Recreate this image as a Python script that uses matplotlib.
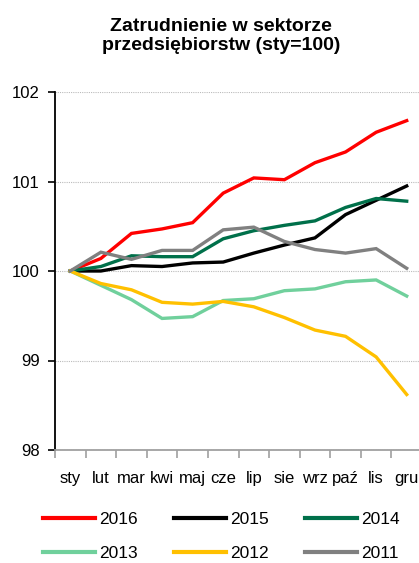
import matplotlib
matplotlib.use("Agg")
import matplotlib.pyplot as plt
from matplotlib.ticker import FixedLocator

plt.rcParams['font.family'] = ['Liberation Sans', 'DejaVu Sans']

months = ["sty", "lut", "mar", "kwi", "maj", "cze", "lip", "sie", "wrz", "paź", "lis", "gru"]
years = ["2016", "2015", "2014", "2013", "2012", "2011"]
colors = ["#FF0000", "#000000", "#00704A", "#70D09C", "#FFC000", "#808080"]

s2016 = [100, 100.14, 100.42, 100.47, 100.54, 100.87, 101.04, 101.02, 101.21, 101.33, 101.55, 101.68]
s2015 = [100, 100.00, 100.06, 100.05, 100.09, 100.10, 100.20, 100.29, 100.37, 100.63, 100.79, 100.95]
s2014 = [100, 100.05, 100.17, 100.16, 100.16, 100.36, 100.45, 100.51, 100.56, 100.71, 100.81, 100.78]
s2013 = [100, 99.84, 99.68, 99.47, 99.49, 99.67, 99.69, 99.78, 99.80, 99.88, 99.90, 99.72]
s2012 = [100, 99.86, 99.79, 99.65, 99.63, 99.66, 99.60, 99.48, 99.34, 99.27, 99.04, 98.62]
s2011 = [100, 100.21, 100.13, 100.23, 100.23, 100.46, 100.49, 100.33, 100.24, 100.20, 100.25, 100.03]
series = [s2016, s2015, s2014, s2013, s2012, s2011]

W, H = 419, 563
fig = plt.figure(figsize=(W / 100, H / 100), dpi=100)
ax = fig.add_axes([55 / W, 1 - 450 / H, 367 / W, (450 - 92) / H])

x = list(range(len(months)))
handles = []
for yr, c, s in zip(years, colors, series):
    h, = ax.plot(x, s, color=c, lw=2.4, solid_joinstyle='miter', label=yr, zorder=3)
    handles.append(h)

ax.set_xlim(-0.5, len(months) - 0.5)
ax.set_ylim(98, 102)
ax.set_yticks([98, 99, 100, 101, 102])
ax.yaxis.grid(True, linestyle=(0, (1, 1)), color='#BBBBBB', lw=0.8)
ax.set_axisbelow(True)

ax.xaxis.set_major_locator(FixedLocator([i - 0.5 for i in range(len(months) + 1)]))
ax.xaxis.set_minor_locator(FixedLocator(x))
ax.set_xticklabels([])
ax.set_xticks(x, minor=True)
ax.set_xticklabels(months, minor=True)
ax.tick_params(axis='x', which='major', length=6, width=1.2, color='#A0A0A0', direction='out')
ax.tick_params(axis='x', which='minor', length=0, pad=15, labelsize=12)
ax.tick_params(axis='y', length=5, width=1.2, color='black', direction='out', labelsize=12, pad=6)

for side in ['top', 'right']:
    ax.spines[side].set_visible(False)
ax.spines['left'].set_color('black')
ax.spines['left'].set_linewidth(1.3)
ax.spines['bottom'].set_color('#A0A0A0')
ax.spines['bottom'].set_linewidth(1.3)

fig.text(221 / W, 1 - 36 / H, "Zatrudnienie w sektorze\nprzedsiębiorstw (sty=100)",
         ha='center', va='center', fontsize=14, fontweight='bold', linespacing=1.15)

order = [0, 3, 1, 4, 2, 5]
leg = fig.legend([handles[i] for i in order], [years[i] for i in order], ncol=3,
                 loc='upper left', bbox_to_anchor=(43 / W, 1 - 512 / H), frameon=False,
                 fontsize=12.5, handlelength=3.0, handletextpad=0.25, columnspacing=2.07,
                 labelspacing=1.1, borderaxespad=0, borderpad=0)
for l in leg.get_lines():
    l.set_linewidth(3)

fig.savefig("out.png", dpi=100)
